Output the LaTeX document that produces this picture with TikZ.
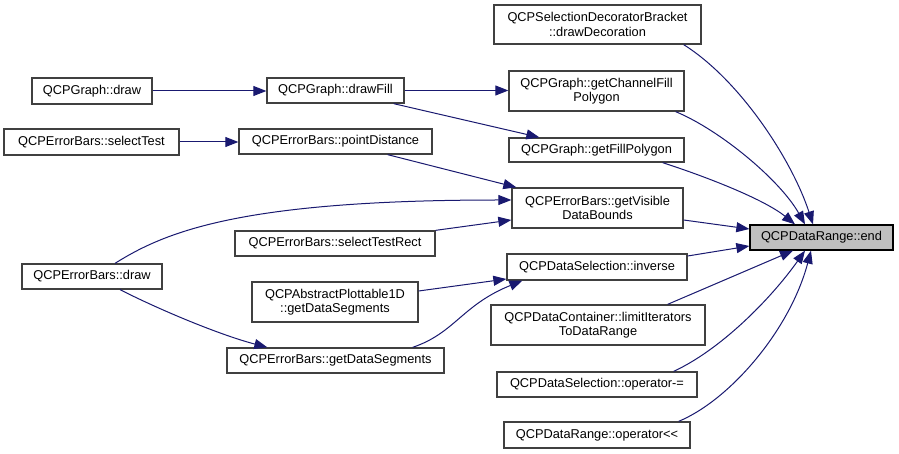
\documentclass[tikz,border=0pt]{standalone}
\usepackage{fontspec}
\setmainfont{Liberation Sans}
\usetikzlibrary{arrows.meta}
\definecolor{edgeblue}{HTML}{191970}
\definecolor{boxline}{HTML}{404040}
\definecolor{hilite}{HTML}{BFBFBF}

\begin{document}
\begin{tikzpicture}[x=1bp,y=-1bp,
  fn/.style={draw=boxline, line width=1.3bp, fill=white, inner sep=0pt,
    align=center, font=\fontsize{12.8bp}{14.5bp}\selectfont},
  call/.style={draw=edgeblue, line width=1bp,
    -{Triangle[length=13bp,width=10bp]}},
]
\fill[white] (0,0) rectangle (899,454);
\useasboundingbox (0,0) rectangle (899,454);

% the called function
\node[fn, fill=hilite, draw=black, minimum width=143bp, minimum height=25bp]
  (endn) at (821.5,237.5) {QCPDataRange::end};

% direct callers
\node[fn, minimum width=207bp, minimum height=39bp] (bracket) at (597.5,24.5)
  {QCPSelectionDecoratorBracket\\::drawDecoration};
\node[fn, minimum width=175bp, minimum height=40bp] (chan) at (596.5,91)
  {QCPGraph::getChannelFill\\Polygon};
\node[fn, minimum width=175bp, minimum height=24bp] (fillpoly) at (596.5,150)
  {QCPGraph::getFillPolygon};
\node[fn, minimum width=171bp, minimum height=40bp] (visible) at (597.5,208)
  {QCPErrorBars::getVisible\\DataBounds};
\node[fn, minimum width=180bp, minimum height=26bp] (inverse) at (597,267)
  {QCPDataSelection::inverse};
\node[fn, minimum width=214bp, minimum height=40bp] (limit) at (598,325)
  {QCPDataContainer::limitIterators\\ToDataRange};
\node[fn, minimum width=200bp, minimum height=25bp] (opminus) at (597,384.5)
  {QCPDataSelection::operator-=};
\node[fn, minimum width=186bp, minimum height=26bp] (opshift) at (597,435)
  {QCPDataRange::operator<\kern0pt<};

% second level
\node[fn, minimum width=137bp, minimum height=25bp] (drawFill) at (335.5,90.5)
  {QCPGraph::drawFill};
\node[fn, minimum width=193bp, minimum height=25bp] (pointDistance) at (335.5,141.5)
  {QCPErrorBars::pointDistance};
\node[fn, minimum width=200bp, minimum height=25bp] (selectTestRect) at (335,243.5)
  {QCPErrorBars::selectTestRect};
\node[fn, minimum width=166bp, minimum height=40bp] (abstract) at (335,302)
  {QCPAbstractPlottable1D\\::getDataSegments};
\node[fn, minimum width=217bp, minimum height=25bp] (ebGetSeg) at (335.5,360.5)
  {QCPErrorBars::getDataSegments};

% third level
\node[fn, minimum width=120bp, minimum height=26bp] (gdraw) at (92,91)
  {QCPGraph::draw};
\node[fn, minimum width=175bp, minimum height=26bp] (selectTest) at (91.5,142)
  {QCPErrorBars::selectTest};
\node[fn, minimum width=140bp, minimum height=25bp] (ebDraw) at (92,276.5)
  {QCPErrorBars::draw};

% calls into QCPDataRange::end
\draw[call] ([xshift=-18bp]bracket.south east) .. controls (740,80) and (792,160) .. ([xshift=-8.5bp]endn.north);
\draw[call] ([xshift=-9bp]chan.south east) .. controls (720,130) and (780,180) .. ([xshift=-16.5bp]endn.north);
\draw[call] ([xshift=-22bp]fillpoly.south east) .. controls (710,178) and (765,200) .. ([xshift=-26.5bp]endn.north);
\draw[call] ([yshift=-12bp]visible.east) -- ([yshift=8.5bp]endn.west);
\draw[call] ([yshift=11bp]inverse.east) -- ([yshift=-8.5bp]endn.west);
\draw[call] ([xshift=-38bp]limit.north east) -- ([xshift=-28.5bp]endn.south);
\draw[call] ([xshift=-24bp]opminus.north east) .. controls (720,350) and (770,300) .. ([xshift=-16.5bp]endn.south);
\draw[call] ([xshift=-12bp]opshift.north east) .. controls (730,400) and (790,330) .. ([xshift=-10.5bp]endn.south);

% calls further out
\draw[call] (gdraw.east) -- (gdraw.east -| drawFill.west);
\draw[call] (drawFill.east) -- (drawFill.east -| chan.west);
\draw[call] ([xshift=-11bp]drawFill.south east) -- ([xshift=31bp]fillpoly.north west);
\draw[call] (selectTest.east) -- (selectTest.east -| pointDistance.west);
\draw[call] ([xshift=-45bp]pointDistance.south east) -- ([xshift=5bp]visible.north west);
\draw[call] ([xshift=23bp]ebDraw.north) .. controls (165,232) and (240,200) .. ([yshift=8bp]visible.west);
\draw[call] (selectTestRect.north east) -- ([yshift=-12bp]visible.west);
\draw[call] ([xshift=28bp]ebDraw.south) .. controls (160,310) and (220,335) .. ([xshift=41bp]ebGetSeg.north west);
\draw[call] ([yshift=11bp]abstract.east) -- ([yshift=-12bp]inverse.west);
\draw[call] ([xshift=-32bp]ebGetSeg.north east) .. controls (455,333) and (462,305) .. ([xshift=16bp]inverse.south west);
\end{tikzpicture}
\end{document}
